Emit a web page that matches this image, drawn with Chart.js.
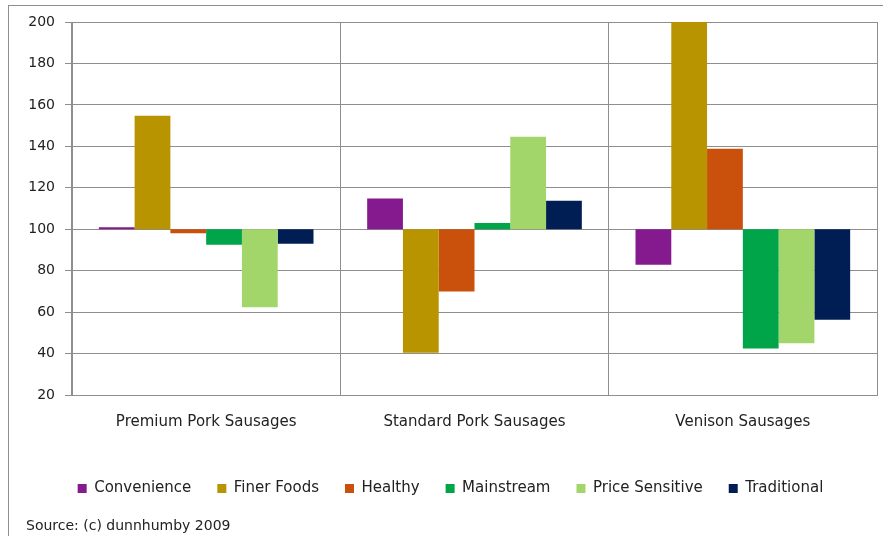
<!DOCTYPE html>
<html>
<head>
<meta charset="utf-8">
<script src="https://cdn.jsdelivr.net/npm/chart.js@4"></script>
<style>
  html, body { margin: 0; padding: 0; background: #fff; }
  #wrap { position: relative; width: 883px; height: 536px; }
  #frame { position: absolute; left: 8px; top: 5px; right: 0; bottom: 0;
           border-left: 1px solid #8e8e8e; border-top: 1px solid #8e8e8e; }
  #source { position: absolute; left: 26px; top: 517px; font: 14px "DejaVu Sans", sans-serif; color: #222; }
  canvas { position: absolute; left: 0; top: 0; }
</style>
</head>
<body>
<div id="wrap">
  <div id="frame"></div>
  <canvas id="myChart" width="883" height="536"></canvas>
  <div id="source">Source: (c) dunnhumby 2009</div>
</div>
<script>
const categories = ['Premium Pork Sausages', 'Standard Pork Sausages', 'Venison Sausages'];
const baseline = 100;
const convenience = [101, 114.8, 82.8];
const finerFoods = [154.7, 40.4, 200];
const healthy = [98, 70, 138.8];
const mainstream = [92.5, 103, 42.4];
const priceSensitive = [62.4, 144.6, 45];
const traditional = [93, 113.8, 56.3];

const float = arr => arr.map(v => [baseline, v]);

const ctx = document.getElementById('myChart').getContext('2d');
const chart = new Chart(ctx, {
  type: 'bar',
  data: {
    labels: categories,
    datasets: [
      { label: 'Convenience', data: float(convenience), backgroundColor: '#851a8f' },
      { label: 'Finer Foods', data: float(finerFoods), backgroundColor: '#b89400' },
      { label: 'Healthy', data: float(healthy), backgroundColor: '#c9510c' },
      { label: 'Mainstream', data: float(mainstream), backgroundColor: '#00a54a' },
      { label: 'Price Sensitive', data: float(priceSensitive), backgroundColor: '#a3d66a' },
      { label: 'Traditional', data: float(traditional), backgroundColor: '#001e54' }
    ]
  },
  options: {
    responsive: false,
    animation: false,
    // left padding shifts the legend centre; y axis width is reduced to keep the plot at x=72
    layout: { padding: { top: 22, right: 6, bottom: 30, left: 24 } },
    datasets: { bar: { categoryPercentage: 0.8, barPercentage: 1.0, borderWidth: 0 } },
    plugins: {
      tooltip: { enabled: false },
      legend: {
        position: 'bottom',
        labels: {
          boxWidth: 9, boxHeight: 9, padding: 26,
          color: '#222',
          font: { family: 'DejaVu Sans', size: 15 }
        }
      }
    },
    scales: {
      x: {
        grid: { color: '#8e8e8e', offset: true, drawTicks: false },
        border: { color: '#8e8e8e' },
        ticks: { color: '#222', padding: 18, font: { family: 'DejaVu Sans', size: 15 } },
        afterFit: s => { s.height = 60; }
      },
      y: {
        min: 20, max: 200,
        grid: { color: '#8e8e8e', tickLength: 7 },
        border: { color: '#8e8e8e' },
        ticks: { stepSize: 20, color: '#222', padding: 10, font: { family: 'DejaVu Sans', size: 14 } },
        afterFit: s => { s.width = 48; }
      }
    }
  }
});
</script>
</body>
</html>
